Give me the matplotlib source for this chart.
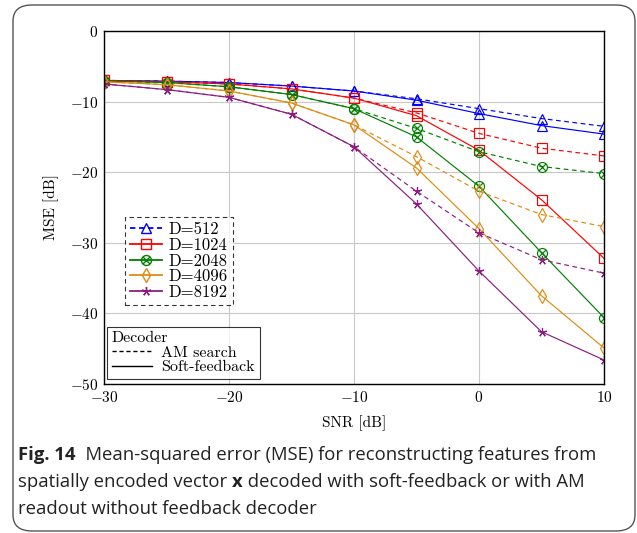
import matplotlib
matplotlib.use("Agg")
import matplotlib.pyplot as plt
from matplotlib.path import Path
from matplotlib.markers import MarkerStyle
from matplotlib.lines import Line2D
from matplotlib.patches import FancyBboxPatch

plt.rcParams['font.family'] = 'serif'
plt.rcParams['font.serif'] = ['cmr10']
plt.rcParams['mathtext.fontset'] = 'cm'
plt.rcParams['axes.formatter.use_mathtext'] = True

snr = [-30, -25, -20, -15, -10, -5, 0, 5, 10]
dims = ['D=512', 'D=1024', 'D=2048', 'D=4096', 'D=8192']
am_search = [
    [-7.0, -7.1, -7.3, -7.8, -8.5, -9.6, -11.0, -12.4, -13.5],
    [-7.0, -7.2, -7.5, -8.2, -9.5, -11.6, -14.5, -16.6, -17.7],
    [-7.1, -7.3, -7.9, -9.0, -11.0, -13.8, -17.1, -19.2, -20.2],
    [-7.2, -7.6, -8.5, -10.2, -13.3, -17.8, -22.7, -26.0, -27.7],
    [-7.5, -8.3, -9.4, -11.8, -16.4, -22.7, -28.6, -32.4, -34.3],
]
soft_feedback = [
    [-7.0, -7.1, -7.3, -7.8, -8.5, -9.8, -11.7, -13.4, -14.6],
    [-7.0, -7.2, -7.5, -8.2, -9.5, -12.0, -16.9, -23.9, -32.2],
    [-7.1, -7.3, -7.9, -9.0, -11.0, -15.0, -22.0, -31.4, -40.6],
    [-7.2, -7.6, -8.5, -10.2, -13.3, -19.4, -28.0, -37.5, -44.9],
    [-7.5, -8.3, -9.4, -11.8, -16.4, -24.5, -34.0, -42.6, -46.6],
]
xticks = [-30, -20, -10, 0, 10]
yticks = [0, -10, -20, -30, -40, -50]

colors = ['#0000ff', '#ff0000', '#008000', '#e08a12', '#8c1d82']

# circle with cross marker
otimes = Path.make_compound_path(
    Path.unit_circle(),
    Path([(-0.707, -0.707), (0.707, 0.707)], [Path.MOVETO, Path.LINETO]),
    Path([(-0.707, 0.707), (0.707, -0.707)], [Path.MOVETO, Path.LINETO]),
)
markers = ['^', 's', MarkerStyle(otimes), 'd', (5, 2, 0)]
msizes = [6.5, 7.2, 7.2, 7.5, 6.5]

fig = plt.figure(figsize=(6.37, 5.33), dpi=100)
W, H = 637, 533
ax = fig.add_axes([104 / W, 1 - 384 / H, 500 / W, 353 / H])

LW = 0.85
for i in range(5):
    ax.plot(snr, am_search[i], linestyle=(0, (4, 3)), color=colors[i], lw=LW,
            marker=markers[i], ms=msizes[i], mfc='none', mew=LW, mec=colors[i])
    ax.plot(snr, soft_feedback[i], linestyle='-', color=colors[i], lw=LW,
            marker=markers[i], ms=msizes[i], mfc='none', mew=LW, mec=colors[i])

ax.set_xlim(-30, 10)
ax.set_ylim(-50, 0)
ax.set_xticks(xticks)
ax.set_yticks(yticks)
ax.grid(True, color='#c8c8c8', lw=0.8)
ax.set_axisbelow(True)
ax.tick_params(direction='in', length=0, labelsize=11, pad=4)
for s in ax.spines.values():
    s.set_linewidth(1.0)
ax.set_xlabel('SNR [dB]', fontsize=11, labelpad=8)
ax.set_ylabel('MSE [dB]', fontsize=11, labelpad=8)

# legend 1 (dimensions)
h1 = []
for i in range(5):
    ls = (0, (3, 2)) if i == 0 else '-'
    h1.append(Line2D([], [], color=colors[i], linestyle=ls, lw=1.3,
                     marker=markers[i], ms=msizes[i], mfc='none', mew=1.0))
leg1 = ax.legend(h1, dims, loc='upper left', bbox_to_anchor=((125 - 104) / 500, (384 - 217) / 353),
                 fontsize=12, frameon=True, fancybox=False, handlelength=1.9,
                 handletextpad=0.4, labelspacing=0.02, borderpad=0.3, borderaxespad=0)
leg1.get_frame().set_edgecolor('black')
leg1.get_frame().set_linewidth(0.8)
leg1.get_frame().set_linestyle((0, (4, 3)))
ax.add_artist(leg1)

h2 = [Line2D([], [], color='black', linestyle=(0, (3, 2)), lw=1.0),
      Line2D([], [], color='black', linestyle='-', lw=1.0)]
leg2 = ax.legend(h2, ['AM search', 'Soft-feedback'], title='Decoder', loc='lower left',
                 bbox_to_anchor=((107 - 104) / 500, (384 - 379) / 353), fontsize=11.5,
                 title_fontsize=11.5, frameon=True, fancybox=False, handlelength=2.5,
                 handletextpad=0.6, labelspacing=0.02, borderpad=0.3, borderaxespad=0,
                 alignment='left')
leg2.get_frame().set_edgecolor('black')
leg2.get_frame().set_linewidth(0.8)

# outer rounded frame
fig.patches.append(FancyBboxPatch((13 / W, 1 - 531 / H), (635 - 13) / W, (531 - 5) / H,
                                  boxstyle='round,pad=0,rounding_size=0.03',
                                  transform=fig.transFigure, fill=False,
                                  edgecolor='#555555', lw=1.0))

# caption
cap_font = 'Open Sans'
cap_size = 13.3
fig.canvas.draw()
r = fig.canvas.get_renderer()

def line(pieces, x0, y0):
    x = x0
    for txt, bold in pieces:
        t = fig.text(x / W, 1 - y0 / H, txt, family=cap_font, fontsize=cap_size,
                     fontweight='bold' if bold else 'normal', va='baseline', ha='left',
                     color='#222222')
        bb = t.get_window_extent(renderer=r)
        x = bb.x1

line([('Fig. 14', True), ('  Mean-squared error (MSE) for reconstructing features from', False)], 18, 460)
line([('spatially encoded vector ', False), ('x', True), (' decoded with soft-feedback or with AM', False)], 18, 487)
line([('readout without feedback decoder', False)], 18, 514)

fig.savefig('out.png', dpi=100)
